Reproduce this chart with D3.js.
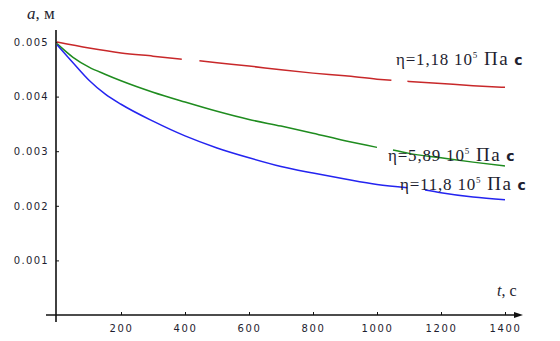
<!DOCTYPE html>
<meta charset='utf-8'>
<title>a(t) for three viscosities</title>
<style>
html, body { margin: 0; padding: 0; background: #fff; }
svg text { fill: #1e1e30; }
</style>
<script src='https://d3js.org/d3.v7.min.js'></script>
<body>
<script>
// Data. null = break in the line (gap in the original)
var tRed   = [0, 100, 200, 300, 390, 420, 445, 500, 600, 700, 800, 900, 1000, 1045, 1070, 1095, 1200, 1300, 1400];
var aRed   = [5.00, 4.89, 4.80, 4.74, 4.685, null, 4.655, 4.62, 4.56, 4.49, 4.43, 4.38, 4.32, 4.30, null, 4.28, 4.24, 4.20, 4.17];
var tGreen = [0, 50, 100, 150, 200, 300, 400, 500, 600, 700, 800, 900, 1000, 1025, 1050, 1100, 1200, 1300, 1400];
var aGreen = [4.97, 4.72, 4.54, 4.41, 4.29, 4.08, 3.90, 3.73, 3.58, 3.46, 3.33, 3.19, 3.07, null, 3.02, 2.96, 2.88, 2.80, 2.73];
var tBlue  = [0, 50, 100, 150, 200, 300, 400, 500, 600, 700, 800, 900, 1000, 1095, 1120, 1150, 1200, 1300, 1400];
var aBlue  = [4.95, 4.62, 4.30, 4.05, 3.86, 3.55, 3.28, 3.06, 2.88, 2.72, 2.60, 2.49, 2.39, 2.33, null, 2.29, 2.24, 2.16, 2.11];

var xTicks = [200, 400, 600, 800, 1000, 1200, 1400];
var yTicks = [0.001, 0.002, 0.003, 0.004, 0.005];

var series = [
  { eta: '1,18', color: '#c8282a', t: tRed, a: aRed },
  { eta: '5,89', color: '#1f8c1f', t: tGreen, a: aGreen },
  { eta: '11,8', color: '#2424f0', t: tBlue, a: aBlue }
];

var W = 560, H = 341;
var x = d3.scaleLinear().domain([0, 1400]).range([57, 505]);
var y = d3.scaleLinear().domain([0, 0.005]).range([315, 42]);

var svg = d3.select('body').append('svg')
  .attr('width', W)
  .attr('height', H);

// axes lines
svg.append('line')
  .attr('x1', 56).attr('x2', 56).attr('y1', 30).attr('y2', 322)
  .attr('stroke', '#111').attr('stroke-width', 1.6);
svg.append('line')
  .attr('x1', 46).attr('x2', 520).attr('y1', 315).attr('y2', 315)
  .attr('stroke', '#111').attr('stroke-width', 1.6);
svg.append('path')
  .attr('d', 'M514,312 L523,315 L514,318 Z')
  .attr('fill', '#111');

// y ticks
var yAxis = svg.append('g')
  .attr('transform', 'translate(56,0)')
  .call(d3.axisLeft(y).tickValues(yTicks).tickFormat(d3.format('.3f')).tickSize(-3).tickPadding(7));
yAxis.select('.domain').remove();
yAxis.selectAll('.tick line').attr('stroke', '#111');
yAxis.selectAll('text')
  .attr('font-family', 'DejaVu Sans')
  .attr('font-size', 10)
  .attr('letter-spacing', 1.3)
  .attr('fill', '#26264a');

// x ticks
var xAxis = svg.append('g')
  .attr('transform', 'translate(0,315)')
  .call(d3.axisBottom(x).tickValues(xTicks).tickFormat(d3.format('d')).tickSize(-3).tickPadding(10));
xAxis.select('.domain').remove();
xAxis.selectAll('.tick line').attr('stroke', '#111');
xAxis.selectAll('text')
  .attr('font-family', 'DejaVu Sans')
  .attr('font-size', 10)
  .attr('letter-spacing', 1.6)
  .attr('fill', '#26264a');

// curves
var line = d3.line()
  .defined(function (d) { return d[1] !== null; })
  .x(function (d) { return x(d[0]); })
  .y(function (d) { return y(d[1] / 1000); })
  .curve(d3.curveMonotoneX);

series.forEach(function (s) {
  var pts = s.t.map(function (t, i) { return [t, s.a[i]]; });
  svg.append('path')
    .datum(pts)
    .attr('d', line)
    .attr('fill', 'none')
    .attr('stroke', s.color)
    .attr('stroke-width', 1.5);
});

// curve labels
var labelPos = [[396, 65], [388, 161], [400, 190]];
series.forEach(function (s, i) {
  var txt = svg.append('text')
    .attr('x', labelPos[i][0])
    .attr('y', labelPos[i][1])
    .attr('font-family', 'Liberation Serif')
    .attr('font-size', 17)
    .attr('letter-spacing', 0.8);
  txt.append('tspan').text('\u03b7=' + s.eta + ' 10');
  txt.append('tspan').attr('dy', -7).attr('font-size', 9).text('5');
  txt.append('tspan').attr('dy', 7).attr('dx', 6).attr('font-size', 19).attr('letter-spacing', 1.5).text('\u041f\u0430');
  txt.append('tspan').attr('dx', 5).attr('font-weight', 'bold').attr('font-family', 'DejaVu Sans').attr('font-size', 14).text('\u0441');
});

// axis titles
var ya = svg.append('text')
  .attr('x', 27).attr('y', 19)
  .attr('font-family', 'Liberation Serif')
  .attr('font-size', 17);
ya.append('tspan').attr('font-style', 'italic').text('a');
ya.append('tspan').text(', \u043c');

var xa = svg.append('text')
  .attr('x', 497).attr('y', 296)
  .attr('font-family', 'Liberation Serif')
  .attr('font-size', 16);
xa.append('tspan').attr('font-style', 'italic').text('t');
xa.append('tspan').text(', \u0441');
</script>
</body>
